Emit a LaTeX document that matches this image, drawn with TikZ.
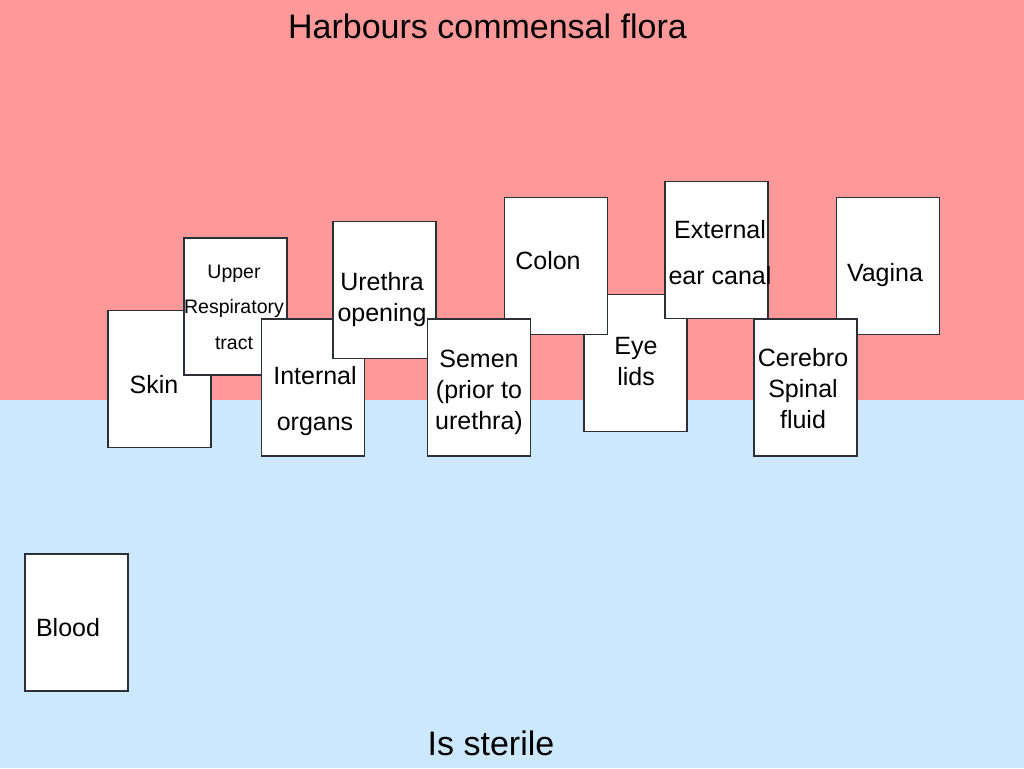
\documentclass[tikz,border=0pt]{standalone}
\usepackage{fontspec}
\setmainfont{Liberation Sans}
\usepackage{xcolor}
\usepackage{tikz}
\definecolor{FloraPink}{HTML}{FF9999}
\definecolor{SterileBlue}{HTML}{CCE8FC}
\definecolor{CardEdge}{HTML}{2A3035}

\begin{document}
\begin{tikzpicture}[
            x=1pt, y=-1pt,
            card/.style={draw=CardEdge, line width=1.2pt, fill=white, minimum width=103pt, minimum height=137pt, inner sep=0pt},
            txt/.style={align=center, inner sep=0pt, font=\fontsize{25}{31}\selectfont},
            widetxt/.style={txt, font=\fontsize{25}{46}\selectfont},
            smalltxt/.style={txt, font=\fontsize{19.5}{35.5}\selectfont},
            heading/.style={inner sep=0pt, font=\fontsize{34}{40}\selectfont}
        ]
            % the two zones
            \fill[FloraPink] (0,0) rectangle (1024,400);
            \fill[SterileBlue] (0,400) rectangle (1024,768);
            \useasboundingbox (0,0) rectangle (1024,768);

            \node[heading] (flora) at (487.5,26) {Harbours commensal flora};
            \node[heading] (sterile) at (491,743) {Is sterile};

            % cards, back to front
            \node[card] (skin) at (159.5,379) {};
            \node[txt] (skin-t) at (154,385) {Skin};

            \node[card] (upper) at (235.5,306.5) {};
            \node[smalltxt] (upper-t) at (234,307) {Upper\\Respiratory\\tract};

            \node[card] (internal) at (313,387.5) {};
            \node[widetxt] (internal-t) at (315,401) {Internal\\organs};

            \node[card] (urethra) at (384.5,290) {};
            \node[txt] (urethra-t) at (382,300) {Urethra\\opening};

            \node[card] (eyelids) at (635.5,363) {};
            \node[txt] (eyelids-t) at (636,361.5) {Eye\\lids};

            \node[card] (colon) at (556,266) {};
            \node[txt] (colon-t) at (548,261) {Colon};

            \node[card] (semen) at (479,387.5) {};
            \node[txt] (semen-t) at (479,392) {Semen\\(prior to\\urethra)};

            \node[card] (earcanal) at (716.5,250) {};
            \node[widetxt] (earcanal-t) at (720,253) {External\\ear canal};

            \node[card] (vagina) at (888,266) {};
            \node[txt] (vagina-t) at (885,275) {Vagina};

            \node[card] (csf) at (805.5,387.5) {};
            \node[txt] (csf-t) at (803,388.5) {Cerebro\\Spinal\\fluid};

            \node[card] (blood) at (76.5,622.5) {};
            \node[txt] (blood-t) at (68,628) {Blood};

        \end{tikzpicture}
\end{document}
